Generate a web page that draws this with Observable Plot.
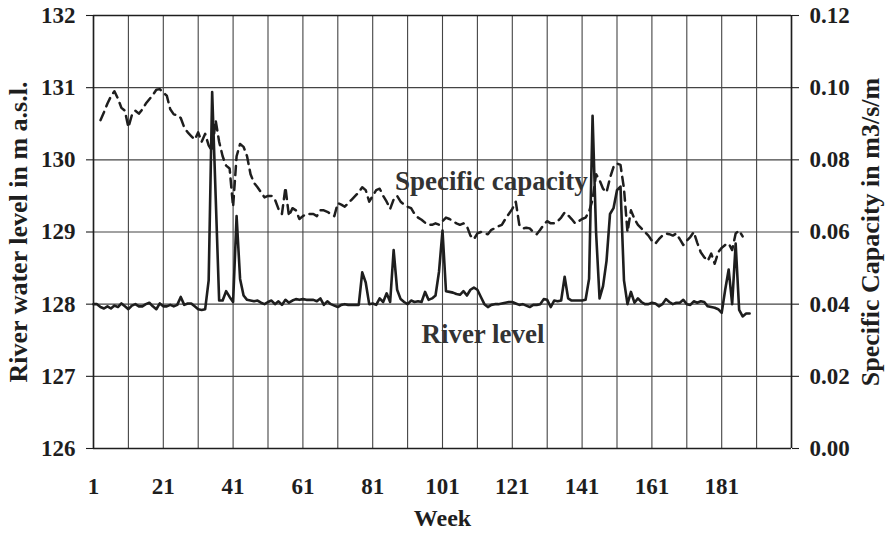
<!DOCTYPE html>
<html><head><meta charset="utf-8">
<script src="https://cdn.jsdelivr.net/npm/d3@7"></script>
<script src="https://cdn.jsdelivr.net/npm/@observablehq/plot@0.6"></script>
<style>
body{margin:0;background:#fff;}
#chart svg text{font-family:'Liberation Serif','Times New Roman',serif;font-weight:bold;}
</style>
</head><body><div id="chart"></div>
<script>
// River water level (m a.s.l.), weeks 1..189
const riverLevel = [
128.00,128.00,127.96,127.94,127.97,127.94,127.98,127.96,128.01,127.97,
127.93,127.98,128.00,127.97,127.97,128.00,128.02,127.97,127.93,128.01,
127.97,127.97,127.99,127.97,127.99,128.10,127.99,128.01,128.01,127.97,
127.93,127.92,127.93,128.33,130.94,129.50,128.05,128.05,128.18,128.10,
128.03,129.22,128.35,128.12,128.06,128.05,128.04,128.05,128.02,128.00,
128.03,128.05,128.00,128.04,127.99,128.06,128.02,128.05,128.07,128.06,
128.07,128.06,128.06,128.06,128.04,128.08,127.99,128.04,128.00,127.98,
127.96,127.99,128.00,127.99,127.99,127.99,127.99,128.44,128.30,128.00,
128.01,127.99,128.08,128.03,128.15,128.03,128.75,128.20,128.07,128.03,
128.00,128.05,128.03,128.04,128.03,128.17,128.06,128.08,128.12,128.45,
129.02,128.18,128.17,128.16,128.14,128.13,128.18,128.12,128.20,128.23,
128.20,128.10,128.00,127.96,127.99,128.00,128.00,128.01,128.02,128.03,
128.03,128.01,127.99,128.00,127.98,127.96,127.99,127.99,128.00,128.07,
128.06,127.96,128.05,128.04,128.05,128.38,128.08,128.05,128.05,128.05,
128.05,128.06,128.35,130.61,129.00,128.08,128.25,128.60,129.25,129.33,
129.58,129.63,128.33,128.00,128.17,128.02,128.08,128.03,128.00,128.00,
128.02,128.01,127.97,128.00,128.07,128.03,128.00,128.02,128.02,128.06,
128.00,127.99,128.04,128.02,128.04,128.03,127.97,127.96,127.95,127.93,
127.88,128.20,128.48,128.00,128.84,127.92,127.83,127.87,127.87
];

// Specific capacity (m3/s/m), weeks 3..187
const firstCapacityWeek = 3;
const specificCapacity = [
.0910,.0932,.0956,.0976,.0990,.0970,.0944,.0936,.0890,.0924,
.0936,.0928,.0940,.0956,.0968,.0980,.0994,.0996,.0986,.0978,
.0940,.0926,.0924,.0916,.0890,.0876,.0866,.0856,.0876,.0850,
.0872,.0840,.0824,.0910,.0850,.0810,.0784,.0776,.0670,.0810,
.0844,.0836,.0810,.0760,.0736,.0724,.0710,.0696,.0700,.0700,
.0690,.0664,.0650,.0724,.0644,.0666,.0660,.0636,.0644,.0650,
.0650,.0650,.0644,.0660,.0660,.0656,.0650,.0644,.0680,.0676,
.0670,.0680,.0690,.0700,.0710,.0724,.0716,.0684,.0700,.0716,
.0720,.0700,.0684,.0664,.0690,.0700,.0684,.0676,.0670,.0666,
.0650,.0640,.0634,.0626,.0620,.0620,.0624,.0620,.0630,.0640,
.0636,.0630,.0624,.0620,.0624,.0616,.0590,.0580,.0596,.0600,
.0596,.0594,.0606,.0610,.0616,.0620,.0636,.0650,.0664,.0684,
.0620,.0610,.0612,.0610,.0600,.0594,.0606,.0620,.0630,.0624,
.0624,.0630,.0640,.0654,.0646,.0636,.0624,.0630,.0636,.0640,
.0656,.0690,.0760,.0744,.0720,.0710,.0750,.0780,.0790,.0786,
.0720,.0600,.0660,.0636,.0620,.0610,.0600,.0590,.0576,.0568,
.0580,.0590,.0596,.0594,.0590,.0596,.0580,.0564,.0576,.0586,
.0600,.0570,.0544,.0530,.0520,.0540,.0512,.0544,.0556,.0564,
.0568,.0550,.0596,.0604,.0588
];

const weekTicks = [1, 21, 41, 61, 81, 101, 121, 141, 161, 181];
const weekGrid = [1, 11, 21, 31, 41, 51, 61, 71, 81, 91, 101, 111, 121, 131, 141, 151, 161, 171, 181, 191, 201];
const levelTicks = [126, 127, 128, 129, 130, 131, 132];
const capacityTicks = [0.00, 0.02, 0.04, 0.06, 0.08, 0.10, 0.12];
const seriesLabels = [
  {text: "Specific capacity", week: 115, level: 129.70},
  {text: "River level", week: 112.6, level: 127.58}
];

const capToLevel = c => 126 + c * 50;
const riverData = riverLevel.map((v, i) => ({week: i + 1, level: v}));
const capData = specificCapacity.map((v, i) => ({week: i + firstCapacityWeek, level: capToLevel(v)}));

const ink = "#1e1e1e";
const chart = Plot.plot({
  width: 889, height: 534,
  marginLeft: 93, marginRight: 98, marginTop: 15, marginBottom: 86,
  x: {domain: [1, 201]},
  y: {domain: [126, 132]},
  style: {fontFamily: "'Liberation Serif', 'Times New Roman', serif", fontWeight: "bold", fontSize: "23px", color: ink, background: "#fff"},
  marks: [
    Plot.ruleX(weekGrid, {stroke: "#444", strokeWidth: 1.1}),
    Plot.ruleY(levelTicks, {stroke: "#444", strokeWidth: 1.1}),
    Plot.axisX(weekTicks, {tickSize: 0, tickPadding: 29, label: null, fontSize: 23, fontWeight: "bold", tickFormat: d => String(d)}),
    Plot.axisY(levelTicks, {anchor: "left", tickSize: 7, tickPadding: 11, label: null, fontSize: 23, fontWeight: "bold", strokeWidth: 1.1, tickFormat: d => String(d)}),
    Plot.axisY(levelTicks, {anchor: "right", tickSize: 7, tickPadding: 11, label: null, fontSize: 23, fontWeight: "bold", strokeWidth: 1.1,
      tickFormat: (d) => capacityTicks[levelTicks.indexOf(d)].toFixed(2)}),
    Plot.ruleX([1, 201], {stroke: ink, strokeWidth: 1.6}),
    Plot.ruleY([126, 132], {stroke: ink, strokeWidth: 1.4}),
    Plot.line(capData, {x: "week", y: "level", stroke: ink, strokeWidth: 2.5, strokeDasharray: "9,6"}),
    Plot.line(riverData, {x: "week", y: "level", stroke: ink, strokeWidth: 2.6}),
    Plot.text(seriesLabels, {x: "week", y: "level", text: "text", fontSize: 27, fontWeight: "bold", fill: "#333"}),
    Plot.text(["River water level in m a.s.l."], {frameAnchor: "left", textAnchor: "middle", dx: -75, rotate: -90, fontSize: 26, fontWeight: "bold", fill: ink}),
    Plot.text(["Specific Capacity in m3/s/m"], {frameAnchor: "right", textAnchor: "middle", dx: 79, rotate: -90, fontSize: 26, fontWeight: "bold", fill: ink}),
    Plot.text(["Week"], {frameAnchor: "bottom", dy: 77, fontSize: 24, fontWeight: "bold", fill: ink})
  ]
});
document.getElementById("chart").appendChild(chart);
</script>
</body></html>
